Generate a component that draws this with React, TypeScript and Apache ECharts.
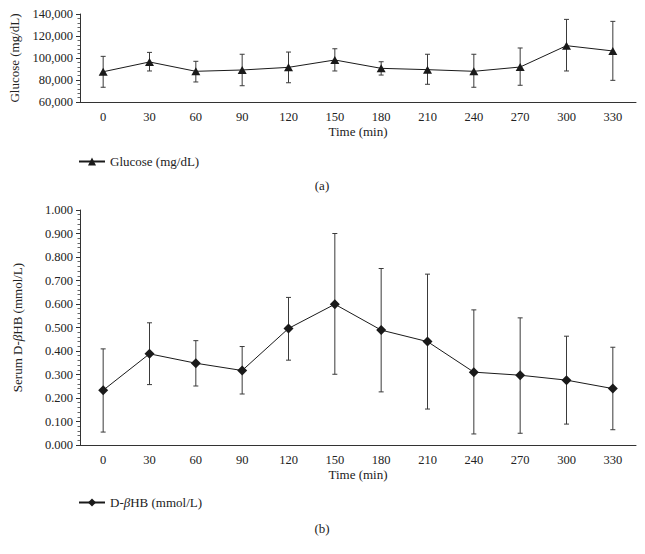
import React, { useEffect, useRef } from "react";
import * as echarts from "echarts";

const categories = ["0", "30", "60", "90", "120", "150", "180", "210", "240", "270", "300", "330"];

const glucoseMean = [87500, 96400, 87900, 89100, 91500, 98200, 90600, 89400, 87900, 91800, 111200, 106400];
const glucoseHigh = [101500, 105100, 97000, 103400, 105400, 108400, 96600, 103400, 103400, 109100, 135100, 133300];
const glucoseLow = [73400, 88200, 78200, 74800, 77500, 88200, 84500, 76100, 73400, 75200, 88200, 79700];

const hbMean = [0.233, 0.388, 0.348, 0.317, 0.496, 0.599, 0.489, 0.44, 0.31, 0.297, 0.276, 0.24];
const hbHigh = [0.409, 0.52, 0.444, 0.419, 0.628, 0.9, 0.751, 0.727, 0.575, 0.541, 0.463, 0.416];
const hbLow = [0.055, 0.257, 0.251, 0.217, 0.361, 0.301, 0.226, 0.153, 0.047, 0.05, 0.089, 0.065];

const glucoseTicks = [60000, 80000, 100000, 120000, 140000];
const hbTicks = [0, 0.1, 0.2, 0.3, 0.4, 0.5, 0.6, 0.7, 0.8, 0.9, 1.0];

const FONT = "'Liberation Serif', 'DejaVu Serif', serif";
const AXIS = "#333";
const TXT = "#222";

function errorRender(params: any, api: any) {
  const x = api.value(0);
  const lo = api.value(1);
  const hi = api.value(2);
  const pHi = api.coord([x, hi]);
  const pLo = api.coord([x, lo]);
  const w = 2.5;
  const style = { stroke: "#3a3a3a", lineWidth: 1 };
  return {
    type: "group",
    children: [
      { type: "line", shape: { x1: pHi[0], y1: pHi[1], x2: pLo[0], y2: pLo[1] }, style },
      { type: "line", shape: { x1: pHi[0] - w, y1: pHi[1], x2: pHi[0] + w, y2: pHi[1] }, style },
      { type: "line", shape: { x1: pLo[0] - w, y1: pLo[1], x2: pLo[0] + w, y2: pLo[1] }, style },
    ],
  };
}

export default function App() {
  const ref = useRef<HTMLDivElement>(null);
  useEffect(() => {
    document.body.style.margin = "0";
    const chart = echarts.init(ref.current!, null, { renderer: "svg" });
    const xAxisBase = (gridIndex: number) => ({
      type: "category",
      gridIndex,
      data: categories,
      boundaryGap: true,
      name: "Time (min)",
      nameLocation: "middle",
      nameGap: 23,
      nameTextStyle: { fontFamily: FONT, fontSize: 13, color: TXT },
      axisLine: { lineStyle: { color: AXIS, width: 1 } },
      axisTick: { alignWithLabel: true, length: 4, lineStyle: { color: AXIS } },
      axisLabel: { fontFamily: FONT, fontSize: 12.5, color: TXT, margin: 8 },
      splitLine: { show: false },
    });
    const option: any = {
      animation: false,
      backgroundColor: "#fff",
      grid: [
        { left: 80, top: 14, width: 556, height: 88 },
        { left: 80, top: 210, width: 556, height: 235 },
      ],
      xAxis: [xAxisBase(0), xAxisBase(1)],
      yAxis: [
        {
          type: "value",
          gridIndex: 0,
          min: glucoseTicks[0],
          max: glucoseTicks[glucoseTicks.length - 1],
          interval: 20000,
          name: "Glucose (mg/dL)",
          nameLocation: "middle",
          nameGap: 56,
          nameTextStyle: { fontFamily: FONT, fontSize: 13, color: TXT },
          axisLine: { show: true, lineStyle: { color: AXIS } },
          axisTick: { show: true, length: 4, lineStyle: { color: AXIS } },
          minorTick: { show: true, splitNumber: 5, length: 2.5, lineStyle: { color: "#666" } },
          axisLabel: {
            fontFamily: FONT,
            fontSize: 12.5,
            color: TXT,
            margin: 7,
            formatter: (v: number) => v.toLocaleString("en-US"),
          },
          splitLine: { show: false },
        },
        {
          type: "value",
          gridIndex: 1,
          min: hbTicks[0],
          max: hbTicks[hbTicks.length - 1],
          interval: 0.1,
          name: "{n|Serum D-}{i|β}{n|HB (mmol/L)}",
          nameLocation: "middle",
          nameGap: 56,
          nameTextStyle: {
            fontFamily: FONT,
            fontSize: 13,
            color: TXT,
            rich: {
              n: { fontFamily: FONT, fontSize: 13, color: TXT },
              i: { fontFamily: FONT, fontSize: 13, color: TXT, fontStyle: "italic" },
            },
          },
          axisLine: { show: true, lineStyle: { color: AXIS } },
          axisTick: { show: true, length: 4, lineStyle: { color: AXIS } },
          minorTick: { show: true, splitNumber: 5, length: 2.5, lineStyle: { color: "#666" } },
          axisLabel: {
            fontFamily: FONT,
            fontSize: 12.5,
            color: TXT,
            margin: 7,
            formatter: (v: number) => v.toFixed(3),
          },
          splitLine: { show: false },
        },
      ],
      legend: [
        {
          data: ["Glucose (mg/dL)"],
          left: 78,
          top: 155,
          padding: 0,
          itemWidth: 26,
          itemHeight: 10,
          itemGap: 6,
          textStyle: { fontFamily: FONT, fontSize: 13, color: TXT },
        },
        {
          data: ["D-βHB (mmol/L)"],
          left: 78,
          top: 496,
          padding: 0,
          itemWidth: 26,
          itemHeight: 10,
          itemGap: 6,
          formatter: () => "{n|D-}{i|β}{n|HB (mmol/L)}",
          textStyle: {
            fontFamily: FONT,
            fontSize: 13,
            color: TXT,
            rich: {
              n: { fontFamily: FONT, fontSize: 13, color: TXT },
              i: { fontFamily: FONT, fontSize: 13, color: TXT, fontStyle: "italic" },
            },
          },
        },
      ],
      graphic: [
        {
          type: "text",
          x: 322,
          y: 185,
          style: { text: "(a)", fontFamily: FONT, fontSize: 13, fill: TXT, textAlign: "center", textVerticalAlign: "middle" },
        },
        {
          type: "text",
          x: 322,
          y: 528,
          style: { text: "(b)", fontFamily: FONT, fontSize: 13, fill: TXT, textAlign: "center", textVerticalAlign: "middle" },
        },
      ],
      series: [
        {
          type: "custom",
          xAxisIndex: 0,
          yAxisIndex: 0,
          renderItem: errorRender,
          encode: { x: 0, y: [1, 2] },
          data: categories.map((_, i) => [i, glucoseLow[i], glucoseHigh[i]]),
          z: 1,
          silent: true,
        },
        {
          name: "Glucose (mg/dL)",
          type: "line",
          xAxisIndex: 0,
          yAxisIndex: 0,
          data: glucoseMean,
          symbol: "triangle",
          symbolSize: [9, 8],
          lineStyle: { color: "#1a1a1a", width: 1 },
          itemStyle: { color: "#1a1a1a" },
          z: 3,
        },
        {
          type: "custom",
          xAxisIndex: 1,
          yAxisIndex: 1,
          renderItem: errorRender,
          encode: { x: 0, y: [1, 2] },
          data: categories.map((_, i) => [i, hbLow[i], hbHigh[i]]),
          z: 1,
          silent: true,
        },
        {
          name: "D-βHB (mmol/L)",
          type: "line",
          xAxisIndex: 1,
          yAxisIndex: 1,
          data: hbMean,
          symbol: "diamond",
          symbolSize: [10, 10],
          lineStyle: { color: "#1a1a1a", width: 1 },
          itemStyle: { color: "#1a1a1a" },
          z: 3,
        },
      ],
    };
    chart.setOption(option);
    return () => chart.dispose();
  }, []);
  return <div ref={ref} style={{ width: 645, height: 554 }} />;
}
